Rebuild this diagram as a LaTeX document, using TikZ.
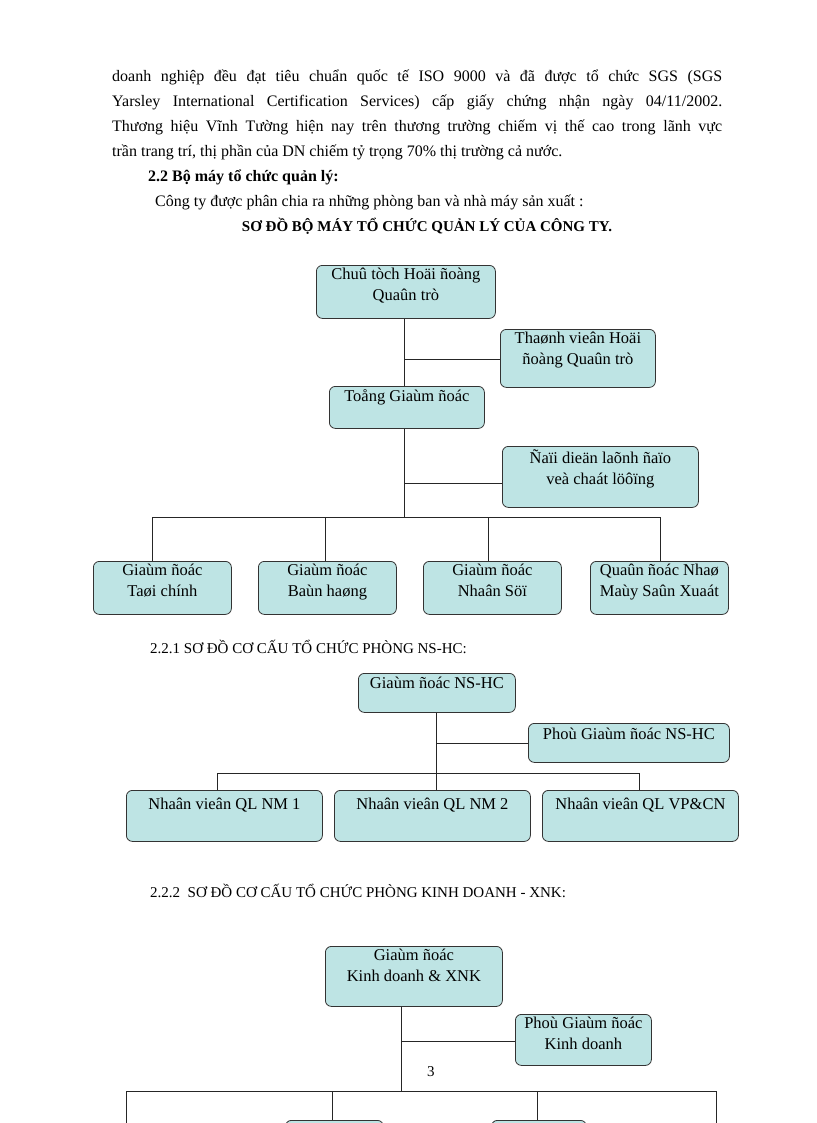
\documentclass[tikz,border=0pt]{standalone}
\usepackage{fontspec}
\setmainfont{Liberation Serif}
\newcommand{\jline}[1]{{\parfillskip=0pt\relax #1\par}}
\begin{document}
\begin{tikzpicture}[x=1pt,y=-1pt,
  box/.style={draw=black!80,line width=0.8pt,fill=boxc,rounded corners=6pt,anchor=north west,inner sep=0pt},
  btxt/.style={anchor=north,align=center,font=\fontsize{16.5}{21}\selectfont,inner sep=0pt},
  ln/.style={line width=0.7pt,draw=black!85},
  body/.style={anchor=base west,inner sep=0pt,font=\fontsize{16}{25}\selectfont},
  jus/.style={body,text width=610pt,align=justify}]
\definecolor{boxc}{RGB}{190,228,228}
\useasboundingbox (0,0) rectangle (816,1123);
% body text
\node[jus] (p1) at (112,82) {\jline{doanh nghiệp đều đạt tiêu chuẩn quốc tế ISO 9000 và đã được tổ chức SGS (SGS}};
\node[jus] (p2) at (112,107) {\jline{Yarsley International Certification Services) cấp giấy chứng nhận ngày 04/11/2002.}};
\node[jus] (p3) at (112,132) {\jline{Thương hiệu Vĩnh Tường hiện nay trên thương trường chiếm vị thế cao trong lãnh vực}};
\node[body] (p4) at (112,157) {trần trang trí, thị phần của DN chiếm tỷ trọng 70\% thị trường cả nước.};
\node[body,font=\bfseries\fontsize{16}{25}\selectfont] (h1) at (148,182) {2.2 Bộ máy tổ chức quản lý:};
\node[body] (p5) at (155,207) {Công ty được phân chia ra những phòng ban và nhà máy sản xuất :};
\node[body,anchor=base,font=\bfseries\fontsize{15}{25}\selectfont] (h2) at (427,232) {SƠ ĐỒ BỘ MÁY TỔ CHỨC QUẢN LÝ CỦA CÔNG TY.};
% chart 1
\node[box,minimum width=179pt,minimum height=53pt] (a) at (316,265) {};
\node[btxt] at ([yshift=-3pt]a.north) {Chuû tòch Hoäi ñoàng\\Quaûn trò};
\node[box,minimum width=155pt,minimum height=58pt] (b) at (500,329) {};
\node[btxt] at ([yshift=-3pt]b.north) {Thaønh vieân Hoäi\\ñoàng Quaûn trò};
\node[box,minimum width=155pt,minimum height=42pt] (c) at (329,386) {};
\node[btxt] at ([yshift=-3pt]c.north) {Toång Giaùm ñoác};
\node[box,minimum width=196pt,minimum height=61pt] (d) at (502,446) {};
\node[btxt] at ([yshift=-3pt]d.north) {Ñaïi dieän laõnh ñaïo\\veà chaát löôïng};
\foreach \n/\x/\t in {e1/93/{Giaùm ñoác\\Taøi chính},e2/258/{Giaùm ñoác\\Baùn haøng},e3/423/{Giaùm ñoác\\Nhaân Söï},e4/590/{Quaûn ñoác Nhaø\\Maùy Saûn Xuaát}}{
  \node[box,minimum width=138pt,minimum height=53pt] (\n) at (\x,561) {};
  \node[btxt] at ([yshift=-3pt]\n.north) {\t};}
\coordinate (t1) at (404,359);
\coordinate (t2) at (404,483);
\coordinate (bus1) at (404,517);
\draw[ln] (a.south -| bus1) -- (c.north -| bus1);
\draw[ln] (t1) -- (t1 -| b.west);
\draw[ln] (c.south -| bus1) -- (bus1);
\draw[ln] (t2) -- (t2 -| d.west);
\draw[ln] (152,517) -- (660,517);
\foreach \x in {152,325,488,660}{\draw[ln] (\x,517) -- (\x,561);}
% chart 2
\node[body,font=\fontsize{15}{25}\selectfont] (h3) at (150,653) {2.2.1 SƠ ĐỒ CƠ CẤU TỔ CHỨC PHÒNG NS-HC:};
\node[box,minimum width=157pt,minimum height=39pt] (f) at (358,673) {};
\node[btxt] at ([yshift=-4pt]f.north) {Giaùm ñoác NS-HC};
\node[box,minimum width=201pt,minimum height=39pt] (g) at (528,723) {};
\node[btxt] at ([yshift=-5pt]g.north) {Phoù Giaùm ñoác NS-HC};
\foreach \n/\x/\t in {k1/126/{Nhaân vieân QL NM 1},k2/334/{Nhaân vieân QL NM 2},k3/542/{Nhaân vieân QL VP\&CN}}{
  \node[box,minimum width=196pt,minimum height=51pt] (\n) at (\x,790) {};
  \node[btxt] at ([yshift=-8pt]\n.north) {\t};}
\coordinate (s1) at (436,743);
\coordinate (bus2) at (436,773);
\draw[ln] (f.south -| bus2) -- (k2.north -| bus2);
\draw[ln] (s1) -- (s1 -| g.west);
\draw[ln] (217,790) -- (217,773) -- (639,773) -- (639,790);
% chart 3
\node[body,font=\fontsize{15}{25}\selectfont] (h4) at (150,897) {2.2.2\ \ SƠ ĐỒ CƠ CẤU TỔ CHỨC PHÒNG KINH DOANH - XNK:};
\node[box,minimum width=177pt,minimum height=60pt] (m) at (325,946) {};
\node[btxt] at ([yshift=-3pt]m.north) {Giaùm ñoác\\Kinh doanh \& XNK};
\node[box,minimum width=136pt,minimum height=51pt] (n) at (515,1014) {};
\node[btxt] at ([yshift=-3pt]n.north) {Phoù Giaùm ñoác\\Kinh doanh};
\coordinate (s2) at (401,1041);
\coordinate (bus3) at (401,1091);
\draw[ln] (m.south -| bus3) -- (bus3);
\draw[ln] (s2) -- (s2 -| n.west);
\node[body,font=\fontsize{15}{20}\selectfont] (pg) at (427,1076) {3};
\draw[ln] (126,1123) -- (126,1091) -- (716,1091) -- (716,1123);
\draw[ln] (332,1091) -- (332,1123);
\draw[ln] (537,1091) -- (537,1123);
\node[box,minimum width=98pt,minimum height=20pt] (q1) at (285,1120) {};
\node[box,minimum width=95pt,minimum height=20pt] (q2) at (491,1120) {};
\end{tikzpicture}
\end{document}
